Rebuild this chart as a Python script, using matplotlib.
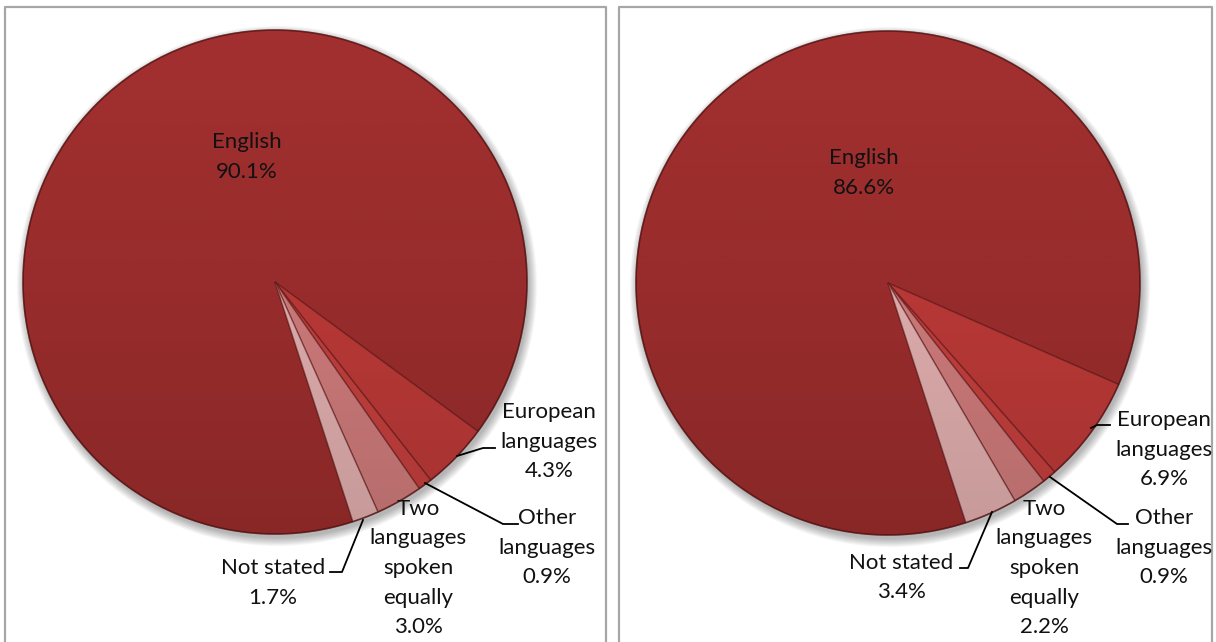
import matplotlib.pyplot as plt
import numpy as np
from matplotlib.patches import Circle

plt.rcParams['font.family'] = ['Lato', 'DejaVu Sans']

# language spoken at home, two census years
names = ['English', 'European\nlanguages', 'Other\nlanguages',
         'Two\nlanguages\nspoken\nequally', 'Not stated']
share_left = [90.1, 4.3, 0.9, 3.0, 1.7]
share_right = [86.6, 6.9, 0.9, 2.2, 3.4]
colors = ['#982c2c', '#b73836', '#bf3e3c', '#ca7878', '#dcaaaa']

W, H = 1216, 642
R = 252
STEP = 29.5

panels = [
    dict(values=share_left, x0=5, x1=606, center=(275, 282),
         label_xy=[(247, 142), (549, 412), (547, 518), (418, 509), (273, 568)],
         leaders=[None,
                  [(457, 456), (483, 448), (495, 448)],
                  [(425, 483), (503, 524), (518, 524)],
                  None,
                  [(363, 520), (342, 572), (330, 572)]]),
    dict(values=share_right, x0=619, x1=1212, center=(888, 283),
         label_xy=[(864, 158), (1164, 420), (1164, 518), (1044, 509), (901, 563)],
         leaders=[None,
                  [(1091, 428), (1097, 425), (1110, 425)],
                  [(1050, 477), (1117, 524), (1128, 524)],
                  None,
                  [(992, 512), (968, 568), (960, 568)]]),
]

fig = plt.figure(figsize=(W / 100, H / 100), dpi=100)
ax = fig.add_axes([0, 0, 1, 1])

# vertical shading over each pie: warm red glow on top, darker toward the bottom
g = np.linspace(0, 1, 256)
shade = np.zeros((256, 1, 4))
top = np.array([0.80, 0.25, 0.25])
shade[:, 0, :3] = np.where(g[:, None] < 0.5, top, 0.0)
shade[:, 0, 3] = np.where(g < 0.5, 0.22 * (1 - 2 * g), 0.10 * (2 * g - 1))

for p in panels:
    cx, cy = p['center']

    # chart frame
    ax.plot([p['x0'], p['x0'], p['x1'], p['x1']], [H + 5, 7, 7, H + 5],
            color='#a6a6a6', lw=1.6, zorder=1)

    # soft drop shadow
    for k in range(10):
        ax.add_patch(Circle((cx + 2, cy + 4), R + k * 0.9, color='k',
                            alpha=0.03, lw=0, zorder=2))

    # y axis runs downward, so counterclock=True draws clockwise on screen
    wedges, _ = ax.pie(p['values'], colors=colors, center=(cx, cy), radius=R,
                       startangle=72, counterclock=True, frame=True,
                       wedgeprops=dict(edgecolor=(0.35, 0.08, 0.08, 0.55),
                                       lw=1.0))
    for w in wedges:
        w.set_zorder(3)

    clip = Circle((cx, cy), R, transform=ax.transData)
    im = ax.imshow(shade, extent=(cx - R, cx + R, cy + R, cy - R),
                   aspect='auto', zorder=4, interpolation='bilinear')
    im.set_clip_path(clip)
    ax.add_patch(Circle((cx, cy), R, fill=False, ec=(0.3, 0.05, 0.05, 0.6),
                        lw=1.2, zorder=5))

    for name, val, (lx, ly), lead in zip(names, p['values'], p['label_xy'],
                                         p['leaders']):
        lines = name.split('\n') + ['%.1f%%' % val]
        for i, s in enumerate(lines):
            ax.text(lx, ly + i * STEP, s, ha='center', va='center',
                    fontsize=16, color='#111111', zorder=6)
        if lead:
            xs, ys = zip(*lead)
            ax.plot(xs, ys, color='black', lw=1.3, zorder=6)

ax.set_xlim(0, W)
ax.set_ylim(H, 0)
ax.set_aspect('auto')
ax.axis('off')

fig.savefig('out.png', dpi=100, facecolor='white')
